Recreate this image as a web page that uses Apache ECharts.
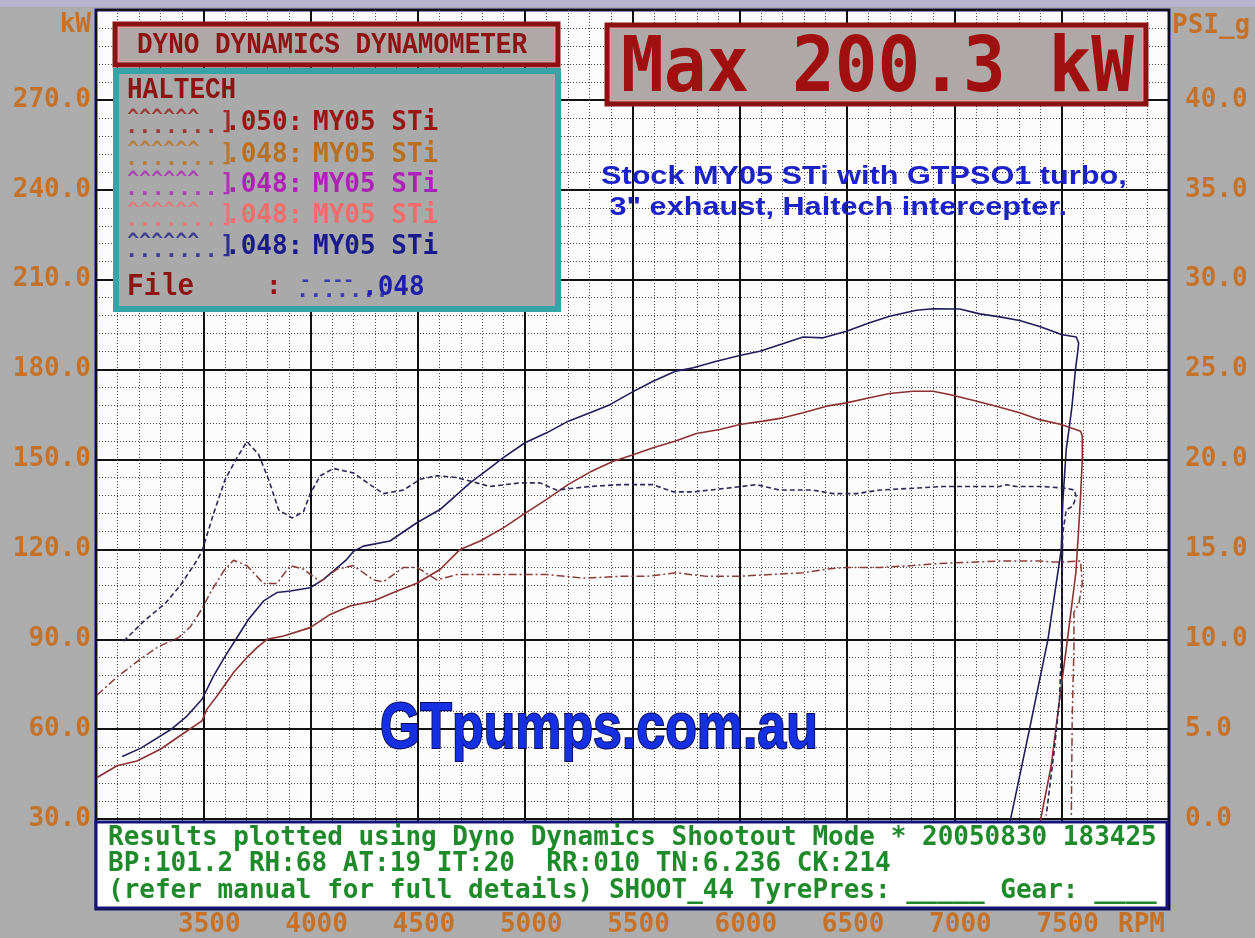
<!DOCTYPE html>
<html>
<head>
<meta charset="utf-8">
<script src="https://cdn.jsdelivr.net/npm/echarts@6/dist/echarts.min.js"></script>
<style>
html,body{margin:0;padding:0;background:#acacac;}
#chart{width:1255px;height:938px;}
</style>
</head>
<body>
<div id="chart"></div>
<script>
// ---------------- data (read from the dyno sheet) ----------------
const xTicks = [3500, 4000, 4500, 5000, 5500, 6000, 6500, 7000, 7500];

// Run 1 (navy) power, kW
const run1PowerRpm = [3122,3207,3347,3424,3494,3548,3602,3657,3711,3781,3843,3905,3998,4060,4169,4200,4246,4370,4495,4603,4743,4836,4898,4999,5100,5201,5302,5395,5496,5596,5697,5783,5891,6000,6093,6186,6295,6388,6497,6605,6698,6823,6900,7025,7118,7211,7304,7397,7474,7498,7568,7579,7575,7564,7548,7536,7521,7513,7505,7498,7436,7350,7265,7230];
const run1PowerKw  = [50.9,53.6,59.8,64.4,70,77.8,84.4,90.6,96.7,102.8,105.6,106.1,107.2,110,116.7,119.4,121.1,122.8,128.9,133.3,142.2,147.2,150.6,155.6,158.9,162.8,165.6,168.3,172.4,176.1,179.4,180.6,182.8,184.7,186.1,188.3,190.9,190.6,192.8,195.6,197.8,199.8,200.3,200.2,198.6,197.6,196.4,194.4,192.4,191.7,190.9,188.9,186.1,180,167.8,161.1,153.3,144.4,135.6,120,90,60,31.1,20];

// Run 2 (brown) power, kW
const run2PowerRpm = [3005,3098,3191,3300,3424,3494,3517,3564,3641,3703,3750,3797,3874,3998,4091,4184,4293,4386,4495,4603,4697,4790,4898,4999,5100,5201,5302,5410,5496,5596,5697,5798,5907,6000,6108,6202,6295,6404,6497,6605,6698,6807,6900,6977,7086,7195,7304,7397,7498,7588,7596,7596,7588,7578,7566,7521,7490,7451,7405,7378];
const run2PowerKw  = [43.9,47.8,49.4,53.3,59.4,62.8,66.7,71.1,78.9,83.9,87.2,90,91.1,93.9,98.3,101.1,102.8,105.6,108.7,113.3,120,122.8,127.2,132,136.7,141.7,145.8,149.4,151.4,153.9,156.1,158.7,160,161.7,162.8,163.9,165.6,167.8,168.9,170.6,172,172.8,172.8,171.7,169.8,167.8,165.6,163.3,161.7,159.4,157.8,150,137.8,125.6,112.2,86.7,70,47.8,31.1,20];

// Run 1 (navy) boost, PSI_g
const run1BoostRpm = [3129,3222,3323,3393,3471,3494,3548,3602,3657,3703,3757,3804,3851,3913,3967,3998,4045,4107,4200,4277,4339,4433,4510,4588,4681,4774,4836,4976,5069,5146,5302,5442,5596,5689,5783,5938,6078,6186,6341,6434,6543,6652,6807,6947,7211,7242,7288,7412,7521,7559,7567,7552,7521,7505,7498,7490,7466,7428];
const run1BoostPsi = [9.9,11.0,12.0,13.0,14.4,14.9,17.0,18.9,20.1,21.0,20.3,18.9,17.2,16.75,17.1,18.1,19.1,19.5,19.25,18.6,18.1,18.3,18.9,19.1,19.0,18.7,18.5,18.7,18.7,18.3,18.5,18.6,18.6,18.2,18.2,18.4,18.6,18.3,18.3,18.1,18.1,18.3,18.4,18.5,18.5,18.6,18.5,18.5,18.4,18.3,17.95,17.4,17.2,15.9,9.4,6.7,3.9,0.2];

// Run 2 (brown) boost, PSI_g
const run2BoostRpm = [3005,3098,3207,3292,3385,3440,3494,3533,3595,3641,3703,3781,3843,3905,3967,4045,4123,4200,4293,4339,4433,4495,4588,4681,4836,5100,5193,5270,5442,5566,5705,5845,5985,6140,6295,6404,6497,6652,6807,6900,7102,7211,7397,7458,7505,7588,7596,7596,7580,7557,7557,7549,7545];
const run2BoostPsi = [6.9,7.9,8.9,9.6,10.1,10.7,11.7,12.6,13.8,14.4,14.1,13.1,13.1,14.1,13.9,13.2,13.9,14.1,13.3,13.2,14.0,14.0,13.3,13.6,13.6,13.6,13.5,13.4,13.5,13.5,13.7,13.5,13.5,13.6,13.7,13.9,14.0,14.0,14.1,14.2,14.3,14.35,14.35,14.3,14.3,14.35,14.3,13.1,12.0,11.5,9.4,5.7,0.2];

// legend rows
const legendSuffix = ['.050:', '.048:', '.048:', '.048:', '.048:'];
const legendName = ['MY05 STi', 'MY05 STi', 'MY05 STi', 'MY05 STi', 'MY05 STi'];
const legendColors = ['#9c1414', '#b8701e', '#b020b8', '#f26c6c', '#1a1a8c'];

const infoLines = [
  'Results plotted using Dyno Dynamics Shootout Mode * 20050830 183425',
  'BP:101.2 RH:68 AT:19 IT:20  RR:010 TN:6.236 CK:214',
  '(refer manual for full details) SHOOT_44 TyrePres: _____ Gear: ____'
];

// ---------------- chart ----------------
const MONO = '"DejaVu Sans Mono", monospace';
const AXC = '#c4722a';
const zip = (a, b) => a.map((v, i) => [v, b[i]]);

function txt(x, y, text, fill, size, extra) {
  extra = extra || {};
  return {
    type: 'text', x: x, y: y, z: extra.z || 110,
    scaleX: extra.scaleX || 1, scaleY: extra.scaleY || 1,
    style: {
      text: text, fill: fill,
      font: (extra.weight || 'bold') + ' ' + size + 'px ' + (extra.family || MONO),
      textAlign: extra.align || 'left', textVerticalAlign: 'middle',
      align: extra.align || 'left', verticalAlign: 'middle',
      opacity: extra.opacity == null ? 1 : extra.opacity,
      stroke: extra.stroke || null, lineWidth: extra.lineWidth || 0
    }
  };
}

const graphics = [];
graphics.push({type:'rect', shape:{x:0,y:0,width:1255,height:7}, style:{fill:'#b8b4d0'}, z:1});
// title box
graphics.push({type:'rect', z:100, shape:{x:115,y:24,width:443,height:41}, style:{fill:'#b0a7a7', stroke:'#8a1212', lineWidth:5}});
graphics.push({type:'rect', z:101, shape:{x:118.5,y:27.5,width:436,height:34}, style:{fill:'none', stroke:'#e49a9a', lineWidth:1}});
graphics.push(txt(137, 45, 'DYNO DYNAMICS DYNAMOMETER', '#8e1414', 26, {family:'"Liberation Mono", monospace', scaleY:1.15}));
// legend box
graphics.push({type:'rect', z:100, shape:{x:116,y:71,width:442,height:238}, style:{fill:'#a9a9a9', stroke:'#36a4a6', lineWidth:6}});
graphics.push(txt(127, 90, 'HALTECH', '#8e1414', 26, {family:'"Liberation Mono", monospace', scaleY:1.15}));
const rowY = [123, 155, 185, 216, 247];
rowY.forEach((y, i) => {
  graphics.push(txt(127, y - 5, '^^^^^^', legendColors[i], 20, {opacity:0.75}));
  graphics.push(txt(125, y + 4, '.......', legendColors[i], 22, {opacity:0.75}));
  graphics.push(txt(220, y, ']', legendColors[i], 24, {opacity:0.85}));
  graphics.push(txt(225, y, legendSuffix[i], legendColors[i], 26));
  graphics.push(txt(313, y, legendName[i], legendColors[i], 26));
});
graphics.push(txt(127, 287, 'File', '#8e1414', 28, {family:'"Liberation Mono", monospace', scaleY:1.1}));
graphics.push(txt(266, 287, ':', '#8e1414', 26));
graphics.push(txt(300, 281, '- ---', '#2020b0', 18, {opacity:0.8}));
graphics.push(txt(296, 291, '.......', '#2020b0', 22, {opacity:0.8}));
graphics.push(txt(362, 288, '.048', '#1e1ea8', 26));
// max box
graphics.push({type:'rect', z:100, shape:{x:607,y:25,width:539,height:79}, style:{fill:'#b0a7a7', stroke:'#8a1212', lineWidth:5}});
graphics.push({type:'rect', z:101, shape:{x:610.5,y:28.5,width:532,height:72}, style:{fill:'none', stroke:'#e49a9a', lineWidth:1}});
graphics.push(txt(621, 71, 'Max 200.3 kW', '#a01010', 71, {scaleY:1.07}));
// annotation
graphics.push(txt(601, 177, 'Stock MY05 STi with GTPSO1 turbo,', '#1c22c8', 25, {family:'"Liberation Sans", Arial, sans-serif', scaleX:1.226}));
graphics.push(txt(601, 208, ' 3" exhaust, Haltech intercepter.', '#1c22c8', 25, {family:'"Liberation Sans", Arial, sans-serif', scaleX:1.226}));
// logo
graphics.push(txt(380, 730, 'GTpumps.com.au', '#1530e0', 64, {family:'"Liberation Sans", Arial, sans-serif', scaleX:0.81, stroke:'#0c0c5a', lineWidth:2}));
// bottom info panel
graphics.push({type:'rect', z:100, shape:{x:96,y:822,width:1071,height:86}, style:{fill:'#ffffff', stroke:'#14147a', lineWidth:3}});
[838, 864, 891].forEach((y, i) => graphics.push(txt(108, y, infoLines[i], '#1e8a2a', 26, {weight:'bold'})));
// axis unit labels
graphics.push(txt(91, 25, 'kW', AXC, 26, {align:'right'}));
graphics.push(txt(1172, 26, 'PSI_g', AXC, 26));
graphics.push(txt(1118, 925, 'RPM', AXC, 26));

const chart = echarts.init(document.getElementById('chart'));
const minorDots = {show:true, lineStyle:{color:'#444', width:1, type:[1,2]}};
chart.setOption({
  backgroundColor: '#acacac',
  animation: false,
  grid: {left: 96, right: 86, top: 10, bottom: 28, show: true, backgroundColor: '#fcfcfc', borderColor: '#14147a', borderWidth: 3, containLabel: false},
  xAxis: {
    type: 'value', min: 3000, max: 8000, interval: 500,
    axisLine: {show:false}, axisTick: {show:false},
    axisLabel: {
      color: AXC, fontFamily: MONO, fontWeight: 'bold', fontSize: 26, margin: 3, lineHeight: 26,
      padding: [0, 0, 0, 12],
      formatter: v => xTicks.indexOf(v) >= 0 ? String(v) : ''
    },
    splitLine: {show:true, lineStyle:{color:'#111', width:2}},
    minorTick: {show:false, splitNumber:5},
    minorSplitLine: minorDots
  },
  yAxis: [{
    type: 'value', min: 0, max: 300, interval: 30,
    axisLine: {show:false}, axisTick: {show:false},
    axisLabel: {color: AXC, fontFamily: MONO, fontWeight: 'bold', fontSize: 26, margin: 5,
      formatter: v => (v <= 0 || v >= 300) ? '' : v.toFixed(1)},
    splitLine: {show:true, lineStyle:{color:'#111', width:2}},
    minorTick: {show:false, splitNumber:5},
    minorSplitLine: minorDots
  }, {
    type: 'value', min: -5, max: 45, interval: 5, position: 'right',
    axisLine: {show:false}, axisTick: {show:false},
    axisLabel: {color: AXC, fontFamily: MONO, fontWeight: 'bold', fontSize: 26, margin: 16,
      formatter: v => (v < -0.01 || v > 40.01) ? '' : v.toFixed(1)},
    splitLine: {show:false}
  }],
  series: [
    {type:'line', yAxisIndex:0, data: zip(run1PowerRpm, run1PowerKw), showSymbol:false, symbol:'none', z:5,
     lineStyle:{color:'#1e1e5c', width:1.6}},
    {type:'line', yAxisIndex:0, data: zip(run2PowerRpm, run2PowerKw), showSymbol:false, symbol:'none', z:5,
     lineStyle:{color:'#8c3030', width:1.6}},
    {type:'line', yAxisIndex:1, data: zip(run1BoostRpm, run1BoostPsi), showSymbol:false, symbol:'none', z:5,
     lineStyle:{color:'#2a2a5c', width:1.6, type:[5,3]}},
    {type:'line', yAxisIndex:1, data: zip(run2BoostRpm, run2BoostPsi), showSymbol:false, symbol:'none', z:5,
     lineStyle:{color:'#8a3c34', width:1.5, type:[8,3,2,3]}}
  ],
  graphic: {elements: graphics}
});
</script>
</body>
</html>
